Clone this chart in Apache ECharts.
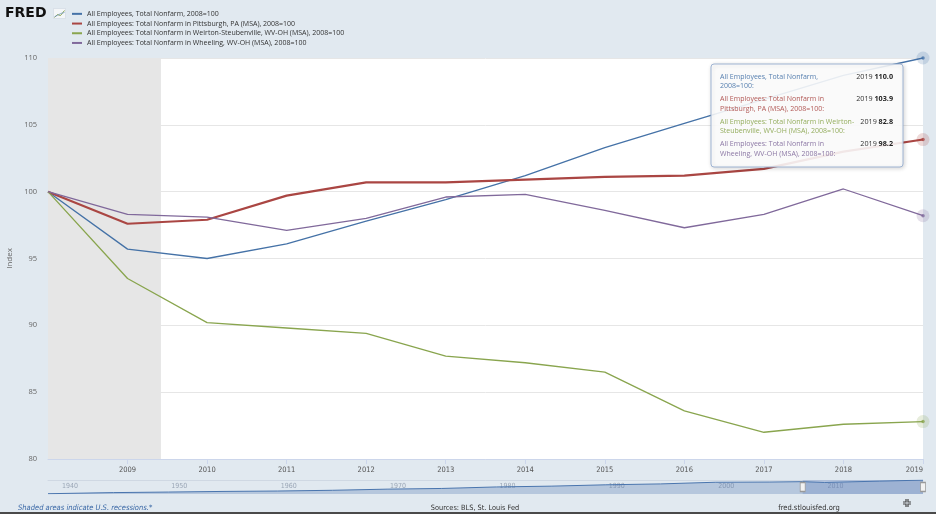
<!DOCTYPE html>
<html>
<head>
<meta charset="utf-8">
<script src="https://cdn.jsdelivr.net/npm/echarts@6/dist/echarts.min.js"></script>
<style>
  html, body { margin: 0; padding: 0; background: #e1e9f0; }
  #chart { width: 936px; height: 514px; }
</style>
</head>
<body>
<div id="chart"></div>
<script>
// FRED: employment indexes, 2008=100
const years = [2008, 2009, 2010, 2011, 2012, 2013, 2014, 2015, 2016, 2017, 2018, 2019];
const usTotal = [100, 95.7, 95.0, 96.1, 97.8, 99.4, 101.2, 103.3, 105.1, 106.9, 108.7, 110.0];
const pittsburgh = [100, 97.6, 97.9, 99.7, 100.7, 100.7, 100.9, 101.1, 101.2, 101.7, 103.0, 103.9];
const weirton = [100, 93.5, 90.2, 89.8, 89.4, 87.7, 87.2, 86.5, 83.6, 82.0, 82.6, 82.8];
const wheeling = [100, 98.3, 98.1, 97.1, 98.0, 99.6, 99.8, 98.6, 97.3, 98.3, 100.2, 98.2];

const seriesNames = [
    'All Employees, Total Nonfarm, 2008=100',
    'All Employees: Total Nonfarm in Pittsburgh, PA (MSA), 2008=100',
    'All Employees: Total Nonfarm in Weirton-Steubenville, WV-OH (MSA), 2008=100',
    'All Employees: Total Nonfarm in Wheeling, WV-OH (MSA), 2008=100'
];
const tipNames = [
    'All Employees, Total Nonfarm,\n2008=100:',
    'All Employees: Total Nonfarm in\nPittsburgh, PA (MSA), 2008=100:',
    'All Employees: Total Nonfarm in Weirton-\nSteubenville, WV-OH (MSA), 2008=100:',
    'All Employees: Total Nonfarm in\nWheeling, WV-OH (MSA), 2008=100:'
];
const colors = ['#4572a7', '#aa4643', '#89a54e', '#80699b'];
const haloColors = ['rgba(69,114,167,0.25)', 'rgba(170,70,67,0.25)', 'rgba(137,165,78,0.25)', 'rgba(128,105,155,0.25)'];
const lineWidths = [1.3, 2.2, 1.3, 1.3];

const recession = [2008, 2009.42];
const yTicks = { min: 80, max: 110, step: 5 };

// navigator: total nonfarm, millions
const navYears = [1939, 1945, 1950, 1955, 1960, 1965, 1970, 1975, 1980, 1985, 1990, 1995, 2000, 2005, 2008, 2010, 2015, 2019];
const navValues = [30.6, 40.4, 45.2, 50.7, 54.3, 60.8, 71.0, 77.1, 90.5, 97.5, 109.5, 117.3, 132.0, 134.0, 137.2, 130.3, 141.8, 150.9];
const navTicks = [1940, 1950, 1960, 1970, 1980, 1990, 2000, 2010];
const navWindow = [2008, 2019];

const allSeries = [usTotal, pittsburgh, weirton, wheeling];
const pair = (arr) => years.map((y, i) => [y, arr[i]]);
const last = years.length - 1;

const chart = echarts.init(document.getElementById('chart'));

const series = allSeries.map((arr, i) => ({
    name: seriesNames[i],
    type: 'line',
    data: pair(arr),
    showSymbol: false,
    symbol: 'none',
    lineStyle: { color: colors[i], width: lineWidths[i] },
    itemStyle: { color: colors[i] },
    z: 3,
    markArea: i === 0 ? {
        silent: true,
        itemStyle: { color: '#e6e6e6' },
        data: [[{ xAxis: recession[0] }, { xAxis: recession[1] }]]
    } : undefined
}));

// highlighted 2019 points
series.push({
    type: 'scatter', clip: false, silent: true, z: 5,
    symbolSize: 13,
    data: allSeries.map((arr, i) => ({ value: [years[last], arr[last]], itemStyle: { color: haloColors[i] } }))
});
series.push({
    type: 'scatter', clip: false, silent: true, z: 6,
    symbolSize: 3.5,
    data: allSeries.map((arr, i) => ({ value: [years[last], arr[last]], itemStyle: { color: colors[i] } }))
});

// navigator
series.push({
    type: 'line', xAxisIndex: 1, yAxisIndex: 1,
    data: navYears.map((y, i) => [y, navValues[i]]),
    showSymbol: false, silent: true,
    lineStyle: { color: '#4a75ae', width: 1 },
    areaStyle: { color: 'rgba(92,127,180,0.45)' },
    markArea: {
        silent: true,
        itemStyle: { color: 'rgba(102,133,194,0.3)' },
        data: [[{ xAxis: navWindow[0] }, { xAxis: navWindow[1] }]]
    },
    markPoint: {
        symbol: 'rect', symbolSize: [5, 9], silent: true,
        label: { show: false },
        itemStyle: { color: '#f2f2f2', borderColor: '#999', borderWidth: 1 },
        data: navWindow.map(x => ({ coord: [x, 90] }))
    }
});

// tooltip box drawn as graphic, kept above the lines
const tipChildren = [{
    type: 'rect', z: 100,
    shape: { x: 0, y: 0, width: 192, height: 103, r: 3 },
    style: {
        fill: 'rgba(255,255,255,0.88)', stroke: '#9fb4d3', lineWidth: 1,
        shadowBlur: 4, shadowOffsetX: 1, shadowOffsetY: 1, shadowColor: 'rgba(0,0,0,0.18)'
    }
}];
tipNames.forEach((t, i) => {
    tipChildren.push({
        type: 'text', x: 9, y: 8 + i * 22.5, z: 101,
        style: { text: t, fill: colors[i], fontSize: 7, lineHeight: 9.5, fontFamily: 'Open Sans', verticalAlign: 'top', opacity: 0.9 }
    });
    tipChildren.push({
        type: 'text', x: 182, y: 8 + i * 22.5, z: 101,
        style: {
            text: '{a|' + years[last] + ' }{b|' + allSeries[i][last].toFixed(1) + '}',
            align: 'right', verticalAlign: 'top', fontFamily: 'Open Sans',
            rich: {
                a: { fontSize: 7.2, fill: '#333', lineHeight: 9.5, fontFamily: 'Open Sans' },
                b: { fontSize: 7.2, fill: '#222', fontWeight: 'bold', lineHeight: 9.5, fontFamily: 'Open Sans' }
            }
        }
    });
});

const narrow = "'Liberation Sans Narrow', 'DejaVu Sans Condensed', sans-serif";
const yearFmt = (v) => String(v);

chart.setOption({
    backgroundColor: '#e1e9f0',
    animation: false,
    textStyle: { fontFamily: 'Open Sans' },
    legend: {
        orient: 'vertical', left: 67, top: 4,
        itemWidth: 10, itemHeight: 2, itemGap: 0,
        icon: 'rect', selectedMode: false,
        textStyle: { fontSize: 7, color: '#333', lineHeight: 9.7, fontFamily: 'Open Sans' },
        data: seriesNames
    },
    grid: [
        { left: 48, right: 13, top: 58, bottom: 55, show: true, backgroundColor: '#fff', borderWidth: 0, outerBoundsMode: 'none' },
        { left: 48, right: 13, top: 480, height: 14, show: false, outerBoundsMode: 'none' }
    ],
    xAxis: [{
        type: 'value', min: years[0], max: years[last], interval: 1,
        axisLine: { show: true, lineStyle: { color: '#ccd6eb' } },
        axisTick: { show: true, length: 5, lineStyle: { color: '#ccd6eb' } },
        splitLine: { show: false },
        axisLabel: { formatter: yearFmt, showMinLabel: false, alignMaxLabel: 'right', fontSize: 7.5, color: '#555', margin: 7, fontFamily: narrow }
    }, {
        type: 'value', gridIndex: 1, min: navYears[0], max: navYears[navYears.length - 1],
        position: 'top',
        axisLine: { show: true, lineStyle: { color: '#cfd8e3' } },
        axisTick: { show: false },
        splitLine: { show: false },
        axisLabel: {
            formatter: yearFmt,
            inside: true, margin: 3, customValues: navTicks, align: 'left',
            fontSize: 7, color: '#9aa6b6', padding: [0, 0, 0, 3], fontFamily: narrow
        }
    }],
    yAxis: [{
        type: 'value', min: yTicks.min, max: yTicks.max, interval: yTicks.step,
        name: 'Index', nameLocation: 'middle', nameGap: 34,
        nameTextStyle: { fontSize: 8, color: '#666' },
        axisLine: { show: false }, axisTick: { show: false },
        splitLine: { lineStyle: { color: '#e6e6e6', width: 1 } },
        axisLabel: { fontSize: 7.5, color: '#666', margin: 11 }
    }, {
        type: 'value', gridIndex: 1, min: 28, max: 152, show: false
    }],
    series: series,
    graphic: [
        {
            type: 'text', left: 5, top: 6,
            style: { text: 'FRED', fontSize: 14, fontWeight: 900, fontFamily: 'DejaVu Sans', fill: '#111' }
        },
        {
            type: 'group', left: 52, top: 8,
            children: [
                { type: 'rect', shape: { x: 0, y: 0, width: 12, height: 10 }, style: { fill: '#f4f6f8', stroke: '#c9d3de', lineWidth: 0.5 } },
                { type: 'polyline', shape: { points: [[1, 9], [4, 6], [7, 7], [11, 2]] }, style: { stroke: '#89a54e', lineWidth: 1, fill: null } },
                { type: 'polyline', shape: { points: [[1, 8], [4, 7], [7, 5], [11, 4]] }, style: { stroke: '#7a9cc8', lineWidth: 0.8, fill: null } }
            ]
        },
        { type: 'group', x: 711, y: 64, z: 100, children: tipChildren },
        {
            type: 'text', x: 18, y: 508,
            style: { text: 'Shaded areas indicate U.S. recessions.*', fontSize: 7.5, fontStyle: 'italic', fill: '#3a68a6', verticalAlign: 'middle', fontFamily: narrow }
        },
        {
            type: 'text', x: 475, y: 508,
            style: { text: 'Sources: BLS, St. Louis Fed', fontSize: 7.3, fill: '#333', align: 'center', verticalAlign: 'middle', fontFamily: narrow }
        },
        {
            type: 'text', x: 809, y: 508,
            style: { text: 'fred.stlouisfed.org', fontSize: 7.5, fill: '#333', align: 'center', verticalAlign: 'middle', fontFamily: narrow }
        },
        {
            type: 'group', x: 907, y: 503,
            children: [
                { type: 'polyline', shape: { points: [[-4, -1], [-1, -1], [-1, -4]] }, style: { stroke: '#444', lineWidth: 1.2, fill: null } },
                { type: 'polyline', shape: { points: [[4, -1], [1, -1], [1, -4]] }, style: { stroke: '#444', lineWidth: 1.2, fill: null } },
                { type: 'polyline', shape: { points: [[-4, 1], [-1, 1], [-1, 4]] }, style: { stroke: '#444', lineWidth: 1.2, fill: null } },
                { type: 'polyline', shape: { points: [[4, 1], [1, 1], [1, 4]] }, style: { stroke: '#444', lineWidth: 1.2, fill: null } }
            ]
        },
        {
            type: 'rect', left: 0, top: 512,
            shape: { width: 936, height: 2 }, style: { fill: '#4a4a4a' }
        }
    ]
});

window.addEventListener('resize', () => chart.resize());
</script>
</body>
</html>
